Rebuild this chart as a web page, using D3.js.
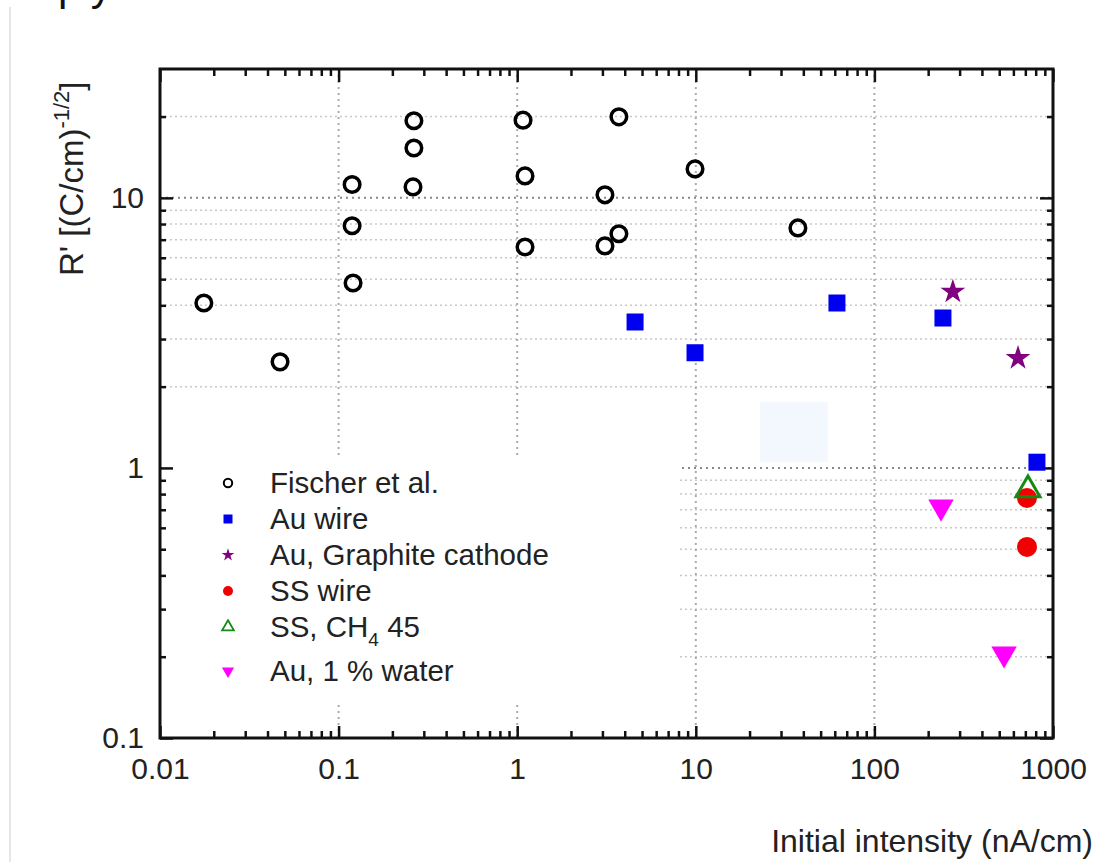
<!DOCTYPE html>
<html>
<head>
<meta charset="utf-8">
<script src="https://cdn.jsdelivr.net/npm/d3@7"></script>
<style>
  body { margin: 0; background: #fff; }
  svg { display: block; font-family: "Liberation Sans", Arial, sans-serif; }
</style>
</head>
<body>
<div class="chart"></div>
<script>
// data
const fischerX = [0.0176, 0.047, 0.119, 0.119, 0.1205, 0.264, 0.264, 0.261, 1.078, 1.106, 1.106, 3.71, 3.10, 3.10, 3.71, 9.9, 37.3];
const fischerY = [4.08, 2.47, 11.2, 7.88, 4.84, 19.3, 15.3, 10.98, 19.4, 12.06, 6.58, 19.95, 10.26, 6.64, 7.36, 12.8, 7.74];
const auWireX = [4.57, 9.9, 61.7, 242, 813];
const auWireY = [3.47, 2.67, 4.08, 3.59, 1.05];
const graphiteX = [275, 637];
const graphiteY = [4.49, 2.55];
const ssWireX = [715, 715];
const ssWireY = [0.774, 0.51];
const ssCh4X = [724];
const ssCh4Y = [0.829];
const waterX = [236, 532];
const waterY = [0.717, 0.205];

const legendLabels = ['Fischer et al.', 'Au wire', 'Au, Graphite cathode', 'SS wire', 'SS, CH4 45', 'Au, 1 % water'];
const xMajor = [0.01, 0.1, 1, 10, 100, 1000];
const xTickLabels = ['0.01', '0.1', '1', '10', '100', '1000'];
const yMajor = [0.1, 1, 10];
const yTickLabels = ['0.1', '1', '10'];

const W = 1115, H = 862;
const margin = { top: 69, right: 62, bottom: 124, left: 160 };
const width = W - margin.left - margin.right;
const height = H - margin.top - margin.bottom;

const svg = d3.select('.chart').append('svg')
  .attr('width', W)
  .attr('height', H);

// page leftovers
svg.append('line')
  .attr('x1', 10).attr('x2', 10).attr('y1', 7).attr('y2', H)
  .attr('stroke', '#e6e6e6').attr('stroke-width', 2);
svg.append('text')
  .attr('x', 58).attr('y', 0)
  .attr('font-size', 42).attr('fill', '#111')
  .text('ply');

const g = svg.append('g')
  .attr('transform', `translate(${margin.left}, ${margin.top})`);

const x = d3.scaleLog().domain([0.01, 1000]).range([0, width]);
const y = d3.scaleLog().domain([0.1, 30]).range([height, 0]);

const xMinor = [];
[0.01, 0.1, 1, 10, 100].forEach(d => { for (let k = 2; k <= 9; k++) xMinor.push(d * k); });
const yMinor = [];
[0.1, 1].forEach(d => { for (let k = 2; k <= 9; k++) yMinor.push(d * k); });
yMinor.push(20);

// grid
g.append('g').selectAll('line')
  .data(yMinor)
  .enter().append('line')
    .attr('x1', 0).attr('x2', width)
    .attr('y1', d => y(d)).attr('y2', d => y(d))
    .attr('stroke', '#c8c8c8').attr('stroke-width', 1.5)
    .attr('stroke-dasharray', '2,3');
g.append('g').selectAll('line')
  .data([1, 10])
  .enter().append('line')
    .attr('x1', 0).attr('x2', width)
    .attr('y1', d => y(d)).attr('y2', d => y(d))
    .attr('stroke', '#888').attr('stroke-width', 2)
    .attr('stroke-dasharray', '2,4');
g.append('g').selectAll('line')
  .data([0.1, 1, 10, 100])
  .enter().append('line')
    .attr('x1', d => x(d)).attr('x2', d => x(d))
    .attr('y1', 0).attr('y2', height)
    .attr('stroke', '#aaa').attr('stroke-width', 2)
    .attr('stroke-dasharray', '2,4');

// faint patch
g.append('rect')
  .attr('x', 600).attr('y', 333).attr('width', 68).attr('height', 60)
  .attr('fill', '#f2f8fe');

// legend background hides the grid
g.append('rect')
  .attr('x', 3).attr('y', 388).attr('width', 515).attr('height', 247)
  .attr('fill', '#fff');

// axes: ticks pointing inside
function styleAxis(sel) {
  sel.select('.domain').remove();
  sel.selectAll('.tick line').attr('stroke', '#111').attr('stroke-width', 2.5);
  sel.selectAll('.tick text').attr('font-size', 30).attr('fill', '#222');
}
g.append('g').attr('transform', `translate(0, ${height})`)
  .call(d3.axisBottom(x).tickValues(xMinor).tickSize(-7).tickFormat(''))
  .call(styleAxis);
g.append('g').attr('transform', `translate(0, ${height})`)
  .call(d3.axisBottom(x).tickValues(xMajor).tickSize(-12).tickPadding(20)
    .tickFormat((d, i) => xTickLabels[i]))
  .call(styleAxis);
g.append('g')
  .call(d3.axisTop(x).tickValues(xMinor).tickSize(-7).tickFormat(''))
  .call(styleAxis);
g.append('g')
  .call(d3.axisTop(x).tickValues(xMajor).tickSize(-13).tickFormat(''))
  .call(styleAxis);
g.append('g')
  .call(d3.axisLeft(y).tickValues(yMinor).tickSize(-6).tickFormat(''))
  .call(styleAxis);
g.append('g')
  .call(d3.axisLeft(y).tickValues(yMajor).tickSize(-13).tickPadding(16)
    .tickFormat((d, i) => yTickLabels[i]))
  .call(styleAxis);
g.append('g').attr('transform', `translate(${width}, 0)`)
  .call(d3.axisRight(y).tickValues(yMinor).tickSize(-6).tickFormat(''))
  .call(styleAxis);
g.append('g').attr('transform', `translate(${width}, 0)`)
  .call(d3.axisRight(y).tickValues(yMajor).tickSize(-13).tickFormat(''))
  .call(styleAxis);

g.append('rect')
  .attr('width', width).attr('height', height)
  .attr('fill', 'none').attr('stroke', '#111').attr('stroke-width', 3);

// axis titles
svg.append('text')
  .attr('x', 1093).attr('y', 852)
  .attr('text-anchor', 'end').attr('font-size', 32).attr('fill', '#222')
  .text('Initial intensity (nA/cm)');
const yt = svg.append('text')
  .attr('transform', 'translate(83, 276) rotate(-90)')
  .attr('font-size', 33).attr('fill', '#222');
yt.append('tspan').text("R' [(C/cm)");
yt.append('tspan').attr('dy', -14).attr('font-size', 22).text('-1/2');
yt.append('tspan').attr('dy', 14).text(']');

// marks
const sym = (type, size) => d3.symbol().type(type).size(size)();
const zip = (xs, ys) => xs.map((v, i) => [v, ys[i]]);

g.append('g').selectAll('circle')
  .data(zip(fischerX, fischerY))
  .enter().append('circle')
    .attr('cx', d => x(d[0])).attr('cy', d => y(d[1]))
    .attr('r', 7.8)
    .attr('fill', 'none').attr('stroke', '#000').attr('stroke-width', 3.5);

g.append('g').selectAll('rect')
  .data(zip(auWireX, auWireY))
  .enter().append('rect')
    .attr('x', d => x(d[0]) - 8.5).attr('y', d => y(d[1]) - 8.5)
    .attr('width', 17).attr('height', 17)
    .attr('fill', '#0000f0');

g.append('g').selectAll('path')
  .data(zip(graphiteX, graphiteY))
  .enter().append('path')
    .attr('transform', d => `translate(${x(d[0])}, ${y(d[1])})`)
    .attr('d', sym(d3.symbolStar, 190))
    .attr('fill', '#800080');

g.append('g').selectAll('circle')
  .data(zip(ssWireX, ssWireY))
  .enter().append('circle')
    .attr('cx', d => x(d[0])).attr('cy', d => y(d[1]))
    .attr('r', 10)
    .attr('fill', '#f00000');

g.append('g').selectAll('path')
  .data(zip(ssCh4X, ssCh4Y))
  .enter().append('path')
    .attr('transform', d => `translate(${x(d[0])}, ${y(d[1])})`)
    .attr('d', sym(d3.symbolTriangle, 250))
    .attr('fill', 'none').attr('stroke', '#138a13').attr('stroke-width', 3);

g.append('g').selectAll('path')
  .data(zip(waterX, waterY))
  .enter().append('path')
    .attr('transform', d => `translate(${x(d[0])}, ${y(d[1])}) rotate(180)`)
    .attr('d', sym(d3.symbolTriangle, 280))
    .attr('fill', '#ff00ff');

// legend
const legendY = [483, 519, 555, 591, 627, 671];
const lg = svg.append('g');
const lx = 228;
lg.append('circle').attr('cx', lx).attr('cy', legendY[0]).attr('r', 4.2)
  .attr('fill', 'none').attr('stroke', '#000').attr('stroke-width', 2);
lg.append('rect').attr('x', lx - 4.5).attr('y', legendY[1] - 4.5)
  .attr('width', 9).attr('height', 9).attr('fill', '#0000f0');
lg.append('path').attr('transform', `translate(${lx}, ${legendY[2]})`)
  .attr('d', sym(d3.symbolStar, 50)).attr('fill', '#800080');
lg.append('circle').attr('cx', lx).attr('cy', legendY[3]).attr('r', 5)
  .attr('fill', '#f00000');
lg.append('path').attr('transform', `translate(${lx}, ${legendY[4]})`)
  .attr('d', sym(d3.symbolTriangle, 60))
  .attr('fill', 'none').attr('stroke', '#138a13').attr('stroke-width', 1.8);
lg.append('path').attr('transform', `translate(${lx}, ${legendY[5]}) rotate(180)`)
  .attr('d', sym(d3.symbolTriangle, 65)).attr('fill', '#ff00ff');

legendLabels.forEach((label, i) => {
  const t = lg.append('text')
    .attr('x', 270).attr('y', legendY[i])
    .attr('dy', '0.35em')
    .attr('font-size', 29.5).attr('fill', '#222');
  if (label.indexOf('CH4') >= 0) {
    t.append('tspan').text('SS, CH');
    t.append('tspan').attr('font-size', 19).attr('dy', 9).text('4');
    t.append('tspan').attr('dy', -9).text(' 45');
  } else {
    t.text(label);
  }
});
</script>
</body>
</html>
